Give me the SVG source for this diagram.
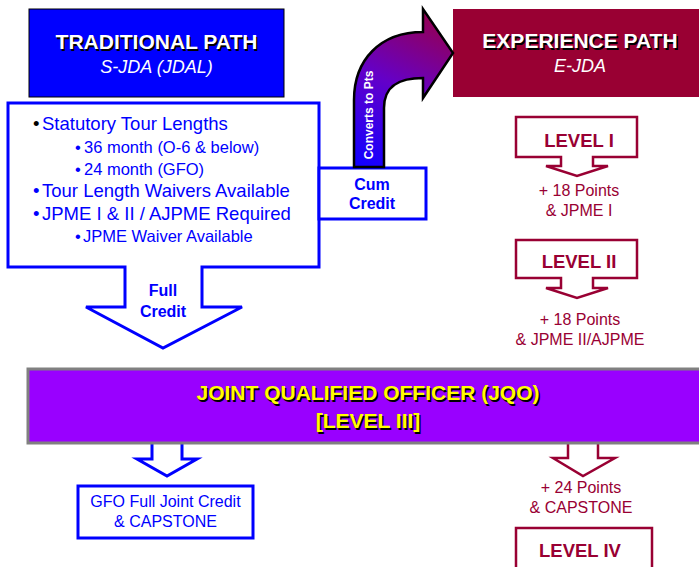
<svg xmlns="http://www.w3.org/2000/svg" width="699" height="567" viewBox="0 0 699 567">
<defs>
<linearGradient id="curveGrad" gradientUnits="userSpaceOnUse" x1="369" y1="167" x2="445" y2="15">
<stop offset="0" stop-color="#1400ff"/>
<stop offset="0.5" stop-color="#6400c8"/>
<stop offset="1" stop-color="#99004a"/>
</linearGradient>
</defs>
<style>
text{font-family:"Liberation Sans",Arial,sans-serif}
.mid{text-anchor:middle}
.hdr{font-weight:bold;font-size:21px}
.white{fill:#ffffff}
.shd{fill:#000000}
.ital{font-style:italic;font-size:18px;fill:#ffffff}
.blue{fill:#0000ff}
.crim{fill:#990033}
.b1{font-size:18.5px}
.b2{font-size:16.5px}
.bold16{font-weight:bold;font-size:16px}
.reg16{font-size:16px}
.lvl{font-weight:bold;font-size:18.5px;fill:#990033;text-anchor:middle}
.blueLine{fill:#ffffff;stroke:#0000ff;stroke-width:3;stroke-linejoin:miter}
.crimLine{fill:#ffffff;stroke:#990033;stroke-width:2.5;stroke-linejoin:miter}
.jqo{font-weight:bold;font-size:21px;text-anchor:middle}
.yel{fill:#ffff00}
</style>

<g id="traditional-path">
<rect x="29" y="9" width="255" height="88" fill="#0000ff" stroke="#000000" stroke-width="1"/>
<text class="hdr mid shd" x="158" y="50.5">TRADITIONAL PATH</text>
<text class="hdr mid white" x="156.5" y="49">TRADITIONAL PATH</text>
<text class="ital mid" x="156.5" y="73">S-JDA (JDAL)</text>
</g>

<g id="experience-path">
<rect x="453" y="9" width="250" height="88" fill="#990033"/>
<text class="hdr mid shd" x="581.5" y="49.5">EXPERIENCE PATH</text>
<text class="hdr mid white" x="580" y="48">EXPERIENCE PATH</text>
<text class="ital mid" x="580" y="72">E-JDA</text>
</g>

<g id="traditional-details">
<path class="blueLine" d="M8,103 H319 V267 H202 V307 H242 L163,348 L86,307 H125 V267 H8 Z"/>
<text class="b1" x="33" y="130"><tspan fill="#000000">•</tspan><tspan class="blue" x="42">Statutory Tour Lengths</tspan></text>
<text class="b2 blue" x="75" y="153">•<tspan x="84">36 month (O-6 &amp; below)</tspan></text>
<text class="b2 blue" x="75" y="175">•<tspan x="84">24 month (GFO)</tspan></text>
<text class="b1 blue" x="33" y="197">•<tspan x="42">Tour Length Waivers Available</tspan></text>
<text class="b1 blue" x="33" y="220">•<tspan x="42">JPME I &amp; II / AJPME Required</tspan></text>
<text class="b2 blue" x="75" y="242">•<tspan x="83">JPME Waiver Available</tspan></text>
<text class="bold16 blue mid" x="163" y="296">Full</text>
<text class="bold16 blue mid" x="163" y="317">Credit</text>
</g>

<g id="cum-credit">
<rect x="319" y="168" width="107" height="51" fill="#ffffff" stroke="#0000ff" stroke-width="3"/>
<text class="bold16 blue mid" x="372" y="190">Cum</text>
<text class="bold16 blue mid" x="372" y="209">Credit</text>
</g>

<g id="connectors">
<g id="converts-arrow">
<path d="M354,167 V100 C354,60 380,32 423,32 V9 L453,53 L423,98 V78 C400,78 384,85 384,108 V167 Z" fill="url(#curveGrad)" stroke="#000000" stroke-width="2.5" stroke-linejoin="miter"/>
<text transform="translate(373,115) rotate(-90)" class="mid white" font-weight="bold" font-size="12">Converts to Pts</text>
</g>
<path id="arrow-jqo-gfo" class="blueLine" stroke-width="2.5" d="M152,443 V459 H137 L167,476 L197,459 H182 V443"/>
<path id="arrow-jqo-level4" class="crimLine" d="M568,443 V458 H553 L583,476 L615,458 H598 V443"/>
</g>

<g id="level-1">
<path class="crimLine" d="M516,117 H637 V157 H593 V166 H608 L577,176 L546,166 H561 V157 H516 Z"/>
<text class="lvl" x="579" y="147">LEVEL I</text>
</g>
<g id="level-1-req">
<text class="reg16 crim mid" x="579" y="196">+ 18 Points</text>
<text class="reg16 crim mid" x="579" y="216">&amp; JPME I</text>
</g>

<g id="level-2">
<path class="crimLine" d="M516,240 H637 V278 H593 V288 H608 L577,298 L546,288 H561 V278 H516 Z"/>
<text class="lvl" x="579" y="268">LEVEL II</text>
</g>
<g id="level-2-req">
<text class="reg16 crim mid" x="580" y="325">+ 18 Points</text>
<text class="reg16 crim mid" x="580" y="345">&amp; JPME II/AJPME</text>
</g>

<g id="jqo">
<rect x="28" y="369" width="680" height="74" fill="#9900ff" stroke="#808080" stroke-width="3"/>
<text class="jqo shd" x="369.5" y="401.5">JOINT QUALIFIED OFFICER (JQO)</text>
<text class="jqo yel" x="368" y="400">JOINT QUALIFIED OFFICER (JQO)</text>
<text class="jqo shd" x="369.5" y="429.5">[LEVEL III]</text>
<text class="jqo yel" x="368" y="428">[LEVEL III]</text>
</g>

<g id="gfo">
<rect x="78" y="486" width="175" height="52" fill="#ffffff" stroke="#0000ff" stroke-width="3"/>
<text class="reg16 blue mid" x="165.5" y="507">GFO Full Joint Credit</text>
<text class="reg16 blue mid" x="165.5" y="527">&amp; CAPSTONE</text>
</g>

<g id="level-4-req">
<text class="reg16 crim mid" x="581" y="493">+ 24 Points</text>
<text class="reg16 crim mid" x="581" y="513">&amp; CAPSTONE</text>
</g>

<g id="level-4">
<rect x="516" y="528" width="136" height="50" fill="#ffffff" stroke="#990033" stroke-width="2.5"/>
<text class="lvl" x="580" y="557">LEVEL IV</text>
</g>
</svg>
